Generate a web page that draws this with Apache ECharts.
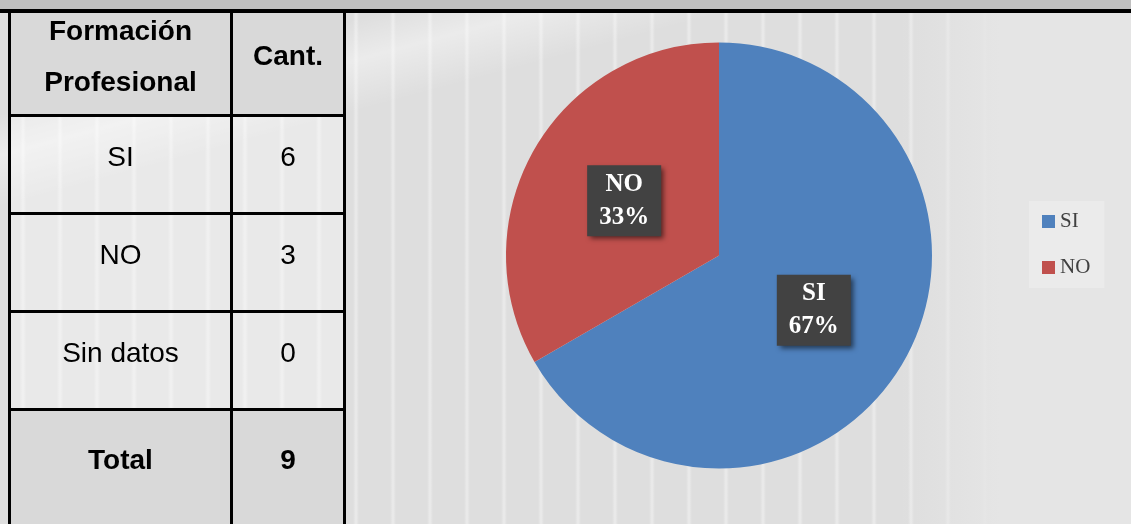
<!DOCTYPE html>
<html>
<head>
<meta charset="utf-8">
<script src="https://cdn.jsdelivr.net/npm/echarts@6/dist/echarts.min.js"></script>
<style>
  html, body { margin: 0; padding: 0; }
  body { width: 1131px; height: 524px; position: relative; overflow: hidden; background: #e3e3e3; }
  #bg {
    position: absolute; left: 0; top: 0; width: 1131px; height: 524px;
    background:
      linear-gradient(90deg, rgba(228,228,228,0) 0px, rgba(228,228,228,0) 900px, #e5e5e5 1000px),
      linear-gradient(165deg, rgba(255,255,255,0) 0px, rgba(255,255,255,0) 110px, rgba(255,255,255,0.4) 150px, rgba(255,255,255,0) 200px),
      repeating-linear-gradient(90deg, rgba(255,255,255,0) 0px, rgba(255,255,255,0) 20px, rgba(255,255,255,0.4) 23px, rgba(255,255,255,0) 26px, rgba(255,255,255,0) 37px),
      #dedede;
  }
  #chart { position: absolute; left: 0; top: 0; width: 1131px; height: 524px; }
</style>
</head>
<body>
<div id="bg"></div>
<div id="chart"></div>
<script>
// table / chart data
const headerLabels = ['Formación\nProfesional', 'Cant.'];
const categories = ['SI', 'NO', 'Sin datos'];
const counts = [6, 3, 0];
const totalLabel = 'Total';
const legendNames = ['SI', 'NO'];

const myChart = echarts.init(document.getElementById('chart'), null, { renderer: 'canvas' });

// table geometry
const colX = [11, 233];
const colW = [219, 110];
const rowY = [13, 117, 215, 313, 411];
const rowH = [101, 95, 95, 95, 113];
const tableFont = 'Liberation Sans, Arial, sans-serif';

const buildTable = () => {
  const els = [];
  // top band
  els.push({ type: 'rect', shape: { x: 0, y: 0, width: 1131, height: 9 }, style: { fill: '#bfbfbf' } });
  const rows = [headerLabels].concat(
    categories.map((c, i) => [c, String(counts[i])]),
    [[totalLabel, String(counts.reduce((a, b) => a + b, 0))]]
  );
  rows.forEach((row, r) => {
    const shaded = r === 0 || r === rows.length - 1;
    row.forEach((txt, c) => {
      els.push({
        type: 'rect',
        shape: { x: colX[c], y: rowY[r], width: colW[c], height: rowH[r] },
        style: { fill: shaded ? '#d9d9d9' : 'rgba(255,255,255,0.35)' }
      });
      els.push({
        type: 'text',
        x: colX[c] + colW[c] / 2,
        y: rowY[r] + rowH[r] / 2 - 6,
        style: {
          text: txt,
          align: 'center',
          verticalAlign: 'middle',
          font: (shaded ? 'bold ' : '') + '28px ' + tableFont,
          lineHeight: 51,
          fill: '#000'
        }
      });
    });
  });
  // lines
  els.push({ type: 'rect', shape: { x: 0, y: 9, width: 1131, height: 4 }, style: { fill: '#000' } });
  [8, 230, 343].forEach(x => {
    els.push({ type: 'rect', shape: { x: x, y: 9, width: 3, height: 515 }, style: { fill: '#000' } });
  });
  [114, 212, 310, 408].forEach(y => {
    els.push({ type: 'rect', shape: { x: 8, y: y, width: 338, height: 3 }, style: { fill: '#000' } });
  });
  return els;
};

const pieData = categories
  .map((c, i) => ({ name: c, value: counts[i] }))
  .filter(d => d.value > 0);

const option = {
  backgroundColor: 'transparent',
  animation: false,
  color: ['#4f81bd', '#c0504d'],
  graphic: buildTable(),
  legend: {
    orient: 'vertical',
    left: 1029,
    top: 201,
    data: legendNames,
    icon: 'rect',
    itemWidth: 13,
    itemHeight: 13,
    itemGap: 25,
    padding: [10, 14, 10, 13],
    backgroundColor: 'rgba(255,255,255,0.25)',
    textStyle: {
      fontFamily: 'Liberation Serif, serif',
      fontSize: 21,
      color: '#404040'
    }
  },
  series: [
    {
      type: 'pie',
      center: [719, 255.5],
      radius: [0, 213],
      startAngle: 90,
      clockwise: true,
      percentPrecision: 0,
      data: pieData,
      label: {
        show: true,
        position: 'inside',
        formatter: '{b}\n{d}%',
        color: '#fff',
        fontFamily: 'Liberation Serif, serif',
        fontWeight: 'bold',
        fontSize: 25,
        lineHeight: 33,
        align: 'center',
        backgroundColor: '#424242',
        padding: [3, 12, 2, 12],
        shadowColor: 'rgba(0,0,0,0.55)',
        shadowBlur: 5,
        shadowOffsetX: 3,
        shadowOffsetY: 3
      },
      labelLine: { show: false },
      itemStyle: { borderWidth: 0 },
      emphasis: { disabled: true }
    }
  ]
};

myChart.setOption(option);
window.addEventListener('resize', () => myChart.resize());
</script>
</body>
</html>
